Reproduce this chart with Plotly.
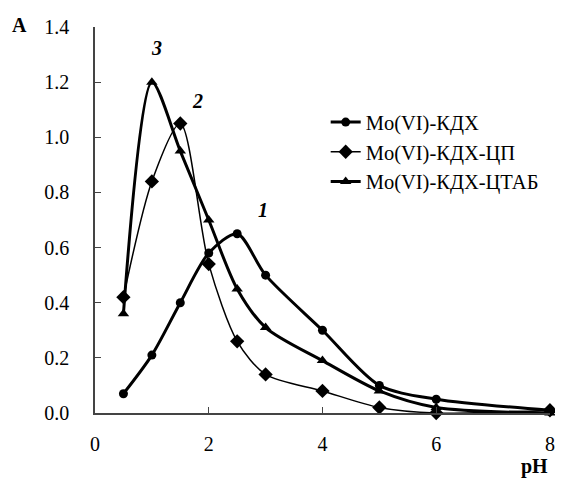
import plotly.graph_objects as go

ph = [0.5, 1, 1.5, 2, 2.5, 3, 4, 5, 6, 8]
a_kdx = [0.07, 0.21, 0.40, 0.58, 0.65, 0.50, 0.30, 0.10, 0.05, 0.01]
a_kdx_cp = [0.42, 0.84, 1.05, 0.54, 0.26, 0.14, 0.08, 0.02, 0.0, 0.01]
a_kdx_ctab = [0.36, 1.20, 0.95, 0.70, 0.45, 0.31, 0.19, 0.08, 0.02, 0.0]
names = ["Mo(VI)-КДХ", "Mo(VI)-КДХ-ЦП", "Mo(VI)-КДХ-ЦТАБ"]
curve_labels = ["1", "2", "3"]
label_pos = [(2.96, 0.735), (1.81, 1.13), (1.08, 1.325)]

font = '"Liberation Serif", "Times New Roman", serif'
fig = go.Figure()
fig.add_trace(go.Scatter(x=ph, y=a_kdx, name=names[0], mode="lines+markers", cliponaxis=False,
                         line=dict(color="black", width=3, shape="spline", smoothing=0.8),
                         marker=dict(symbol="circle", size=9, color="black")))
fig.add_trace(go.Scatter(x=ph, y=a_kdx_cp, name=names[1], mode="lines+markers", cliponaxis=False,
                         line=dict(color="black", width=1.5, shape="spline", smoothing=0.8),
                         marker=dict(symbol="diamond", size=11, color="black")))
fig.add_trace(go.Scatter(x=ph, y=a_kdx_ctab, name=names[2], mode="lines+markers", cliponaxis=False,
                         line=dict(color="black", width=3, shape="spline", smoothing=0.8),
                         marker=dict(symbol="triangle-up", size=10, color="black")))

for lab, (lx, ly) in zip(curve_labels, label_pos):
    fig.add_annotation(x=lx, y=ly, text=f"<b><i>{lab}</i></b>", showarrow=False,
                       font=dict(family=font, size=20, color="black"))

fig.add_annotation(xref="paper", yref="paper", x=-0.167, y=1.005, text="<b>A</b>",
                   showarrow=False, font=dict(family=font, size=20, color="black"),
                   xanchor="center", yanchor="middle")
fig.add_annotation(xref="paper", yref="paper", x=0.967, y=-0.138, text="<b>pH</b>",
                   showarrow=False, font=dict(family=font, size=20, color="black"),
                   xanchor="center", yanchor="middle")

fig.update_layout(
    width=555, height=474,
    margin=dict(l=87, r=8, t=14, b=69),
    paper_bgcolor="white", plot_bgcolor="white",
    font=dict(family=font, size=20, color="black"),
    showlegend=True,
    legend=dict(x=0.507, y=0.805, xanchor="left", yanchor="top",
                font=dict(family=font, size=20.5, color="black"),
                bgcolor="rgba(0,0,0,0)", tracegroupgap=0, itemwidth=30),
    xaxis=dict(range=[0, 8.001], tickvals=[0, 2, 4, 6, 8], showline=True, linecolor="#444",
               linewidth=1.5, ticks="inside", ticklen=6, tickcolor="#444",
               tickfont=dict(family=font, size=20, color="black"),
               showgrid=False, zeroline=False, ticklabelstandoff=12),
    yaxis=dict(range=[0, 1.4], tickvals=[0, 0.2, 0.4, 0.6, 0.8, 1.0, 1.2, 1.4],
               tickformat=".1f", showline=True, linecolor="#444", linewidth=1.5,
               tickfont=dict(family=font, size=20, color="black"),
               ticks="inside", ticklen=6, tickcolor="#444", showgrid=False,
               zeroline=False, ticklabelstandoff=20),
)

fig.write_html("out.html")
